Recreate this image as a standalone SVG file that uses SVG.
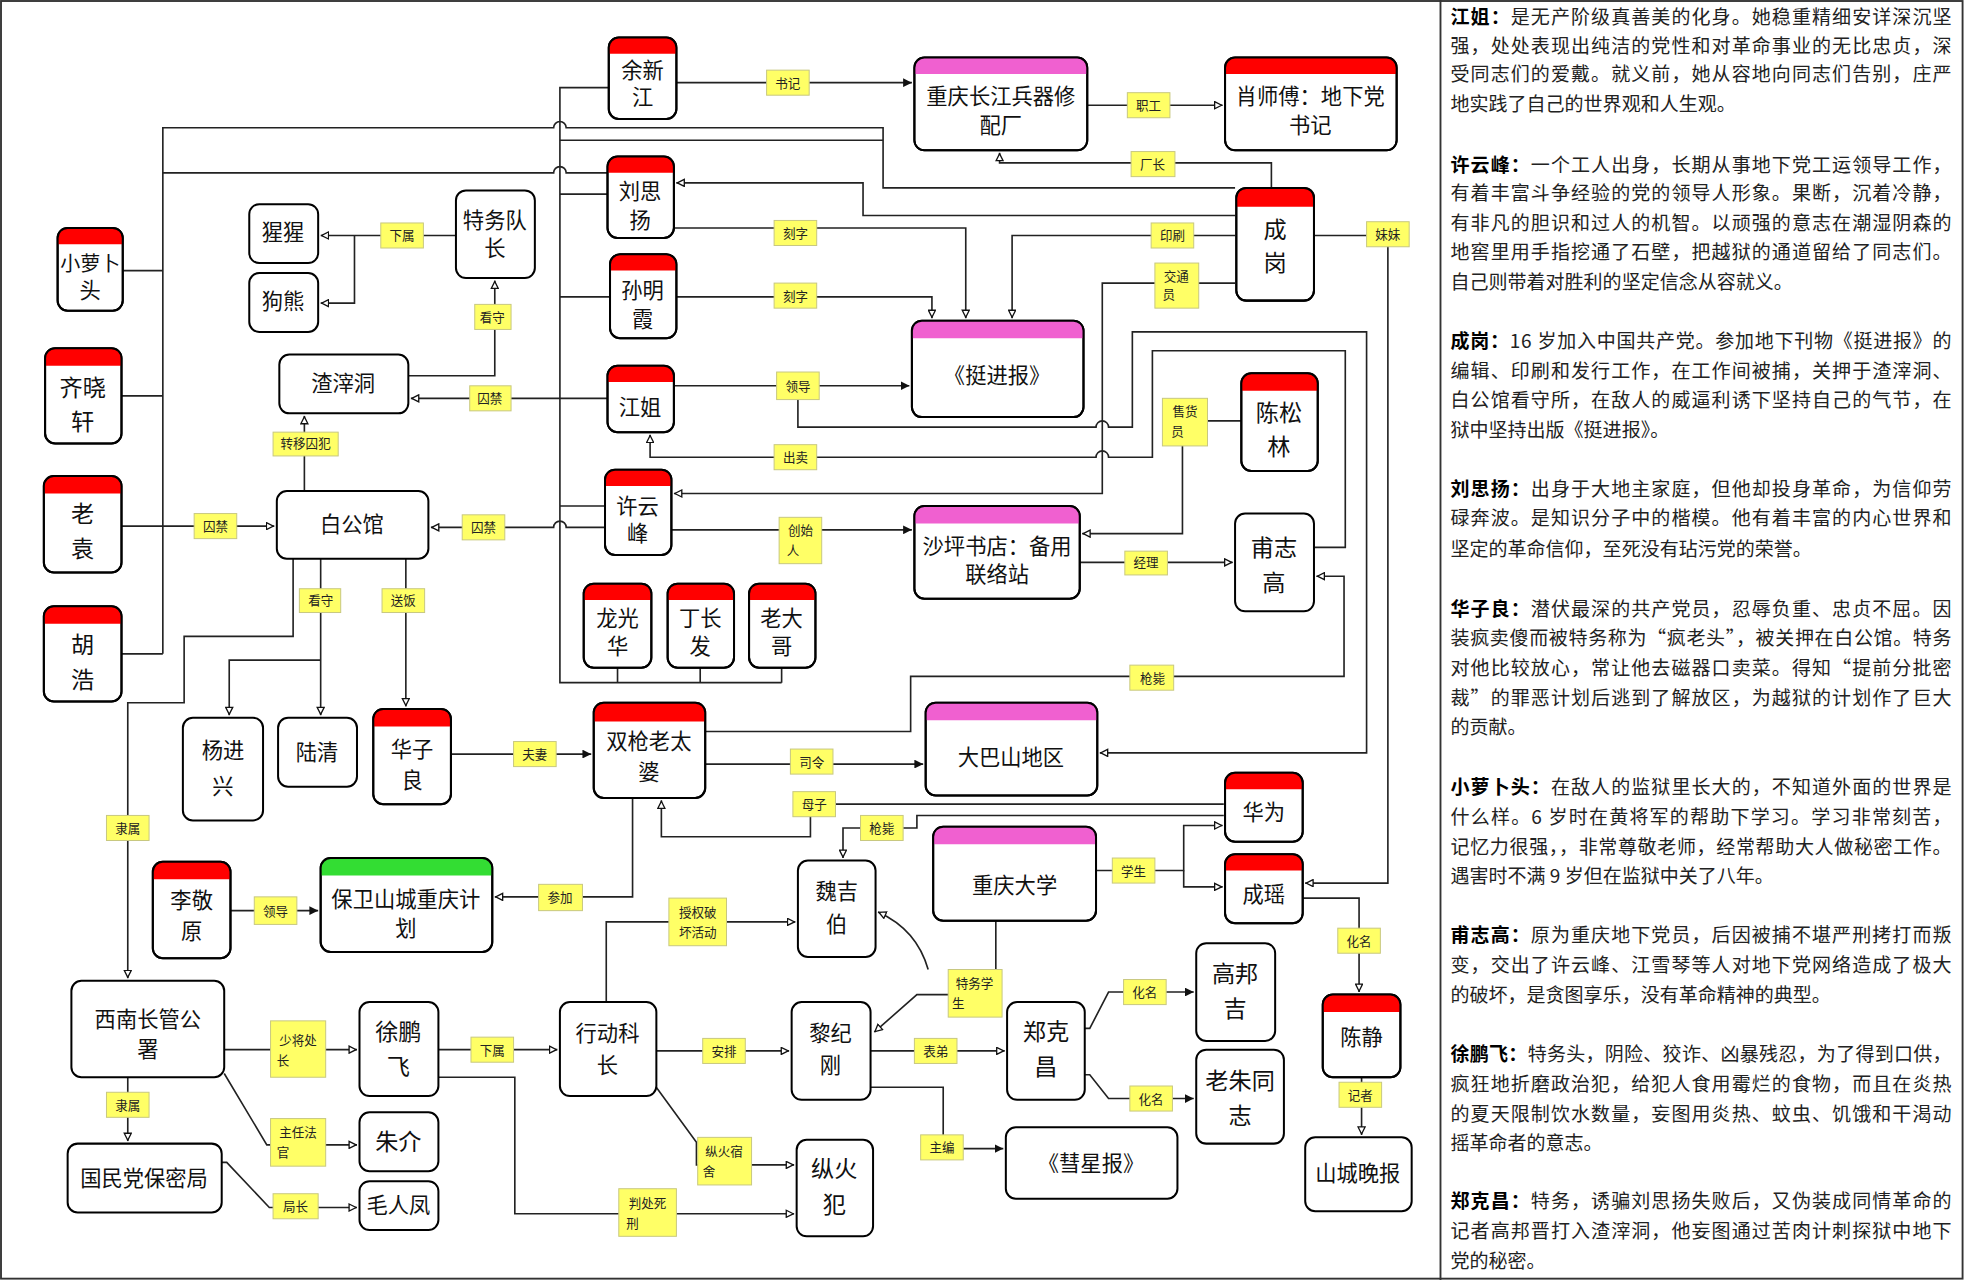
<svg xmlns="http://www.w3.org/2000/svg" width="1964" height="1280" viewBox="0 0 1964 1280">
<defs>
<style>
.box{fill:#fff;stroke:#000;stroke-width:1.6}
.ol{fill:none;stroke:#000;stroke-width:1.6}
.red{fill:#f00}.pink{fill:#f060d0}.green{fill:#33dd33}
.t{font-family:"Noto Sans CJK SC",sans-serif;font-size:17px;text-anchor:middle;fill:#111}
.tb{font-size:18.5px}
.lb{fill:#ffff66;stroke:#c8c880;stroke-width:0.8}
.lt{font-family:"Noto Sans CJK SC",sans-serif;font-size:10px;text-anchor:middle;fill:#222}
.c path{fill:none;stroke:#222;stroke-width:1.3}
.p{font-family:"Noto Sans CJK SC",sans-serif;font-size:15.2px;fill:#222}
.p tspan.b{font-weight:bold;fill:#000}
</style>
<marker id="af" viewBox="0 0 10 10" refX="10" refY="5" markerWidth="7" markerHeight="7" orient="auto" markerUnits="userSpaceOnUse"><path d="M0,0 L10,5 L0,10 Z" fill="#111"/></marker>
<marker id="ao" viewBox="0 0 10 10" refX="10" refY="5" markerWidth="7" markerHeight="7" orient="auto" markerUnits="userSpaceOnUse"><path d="M1,1 L9,5 L1,9 Z" fill="#fff" stroke="#111" stroke-width="1.5"/></marker>
</defs>
<rect width="1964" height="1280" fill="#fff"/>
<g transform="scale(1.2526)">
<rect x="0.8" y="0.8" width="1566" height="1020" fill="none" stroke="#333" stroke-width="1.5"/>
<line x1="1150" y1="0" x2="1150" y2="1022" stroke="#333" stroke-width="1.5"/>

<g class="c" id="connectors">
<path d="M540,66 H728" marker-end="url(#af)"/>
<path d="M868,84 H976" marker-end="url(#ao)"/>
<path d="M1015,150 V130 H798 V122" marker-end="url(#ao)"/>
<path d="M986,150 H705 V102 H452 A5,5 0 0 0 442,102 H130 V522"/>
<path d="M705,112 H447"/>
<path d="M98,216 H130 M97,316 H130 M97,522 H130"/>
<path d="M97,420 H219" marker-end="url(#ao)"/>
<path d="M130,138 H442 A5,5 0 0 1 452,138 H485"/>
<path d="M486,70 H447 V545 H624 M447,155 H485 M447,237 H487 M447,404 H483 M493,533 V545 M559,533 V545 M624,533 V545"/>
<path d="M485,318 H328" marker-end="url(#ao)"/>
<path d="M483,421 H452 A5,5 0 0 0 442,421 H344" marker-end="url(#ao)"/>
<path d="M986,172 H689 V146 H540" marker-end="url(#ao)"/>
<path d="M538,182 H771 V254" marker-end="url(#ao)"/>
<path d="M540,237 H744 V254" marker-end="url(#ao)"/>
<path d="M986,188 H808 V254" marker-end="url(#ao)"/>
<path d="M986,226 H880 V394 H538" marker-end="url(#ao)"/>
<path d="M538,308 H726" marker-end="url(#af)"/>
<path d="M637,319 V341 H875 A5,5 0 0 1 885,341 H904 V265 H1091 V601 H878" marker-end="url(#ao)"/>
<path d="M1049,437 H1074 V280 H920 V365 H885 A5,5 0 0 0 875,365 H519 V347" marker-end="url(#ao)"/>
<path d="M991,336 H944 V426 H864" marker-end="url(#ao)"/>
<path d="M536,423 H728" marker-end="url(#af)"/>
<path d="M862,449 H984" marker-end="url(#ao)"/>
<path d="M1049,188 H1108 V705 H1042" marker-end="url(#ao)"/>
<path d="M563,584 H727 V540 H1073 V460 H1051" marker-end="url(#ao)"/>
<path d="M563,610 H737" marker-end="url(#af)"/>
<path d="M977,642 H647 V668 H528 V639" marker-end="url(#ao)"/>
<path d="M977,651 H732 V661 H673 V685" marker-end="url(#ao)"/>
<path d="M875,695 H945 V659 H976" marker-end="url(#ao)"/>
<path d="M945,695 V708 H976" marker-end="url(#ao)"/>
<path d="M1040,717 H1085 V792" marker-end="url(#ao)"/>
<path d="M1087,860 V906" marker-end="url(#ao)"/>
<path d="M795,735 V794 H757"/>
<path d="M757,794 H732 L698,824" marker-end="url(#ao)"/>
<path d="M741,774 Q732,742 701,728" marker-end="url(#ao)"/>
<path d="M484,800 V736 H635" marker-end="url(#ao)"/>
<path d="M524,839 H630" marker-end="url(#ao)"/>
<path d="M695,839 H802" marker-end="url(#ao)"/>
<path d="M695,868 H753 V917 H801" marker-end="url(#af)"/>
<path d="M866,821 H870 L885,792 H953" marker-end="url(#af)"/>
<path d="M866,858 H870 L885,877 H953" marker-end="url(#af)"/>
<path d="M521,864 L556,912 V930 H634" marker-end="url(#ao)"/>
<path d="M350,860 H411 V969 H634" marker-end="url(#ao)"/>
<path d="M350,838 H445" marker-end="url(#ao)"/>
<path d="M179,838 H285" marker-end="url(#ao)"/>
<path d="M179,857 L213,914 H285" marker-end="url(#ao)"/>
<path d="M177,928 H181 L215,964 H285" marker-end="url(#ao)"/>
<path d="M102,860 V911" marker-end="url(#ao)"/>
<path d="M234,446 V508 H147 V561 H102 V781" marker-end="url(#ao)"/>
<path d="M256,446 V571" marker-end="url(#ao)"/>
<path d="M256,527 H183 V571" marker-end="url(#ao)"/>
<path d="M324,446 V564" marker-end="url(#ao)"/>
<path d="M243,392 V332" marker-end="url(#ao)"/>
<path d="M326,300 H395 V224" marker-end="url(#ao)"/>
<path d="M364,188 H256" marker-end="url(#ao)"/>
<path d="M283,188 V242 H256" marker-end="url(#ao)"/>
<path d="M360,602 H472" marker-end="url(#af)"/>
<path d="M505,637 V716 H395" marker-end="url(#ao)"/>
<path d="M184,727 H254" marker-end="url(#af)"/>
</g>

<g id="labels">
<rect class="lb" x="612" y="56" width="34" height="20"/><text class="lt" x="629" y="70">书记</text>
<rect class="lb" x="900" y="74" width="34" height="20"/><text class="lt" x="917" y="88">职工</text>
<rect class="lb" x="903" y="121" width="35" height="20"/><text class="lt" x="920" y="135">厂长</text>
<rect class="lb" x="1091" y="177" width="34" height="20"/><text class="lt" x="1108" y="191">妹妹</text>
<rect class="lb" x="919" y="178" width="34" height="20"/><text class="lt" x="936" y="192">印刷</text>
<rect class="lb" x="922" y="210" width="35" height="36"/><text class="lt" x="939" y="224">交通</text><text class="lt" x="933" y="239">员</text>
<rect class="lb" x="618" y="176" width="34" height="20"/><text class="lt" x="635" y="190">刻字</text>
<rect class="lb" x="618" y="226" width="34" height="20"/><text class="lt" x="635" y="240">刻字</text>
<rect class="lb" x="304" y="178" width="34" height="20"/><text class="lt" x="321" y="192">下属</text>
<rect class="lb" x="379" y="243" width="29" height="20"/><text class="lt" x="393" y="257">看守</text>
<rect class="lb" x="375" y="308" width="33" height="20"/><text class="lt" x="391" y="322">囚禁</text>
<rect class="lb" x="620" y="297" width="34" height="22"/><text class="lt" x="637" y="312">领导</text>
<rect class="lb" x="928" y="318" width="36" height="38"/><text class="lt" x="946" y="332">售货</text><text class="lt" x="940" y="348">员</text>
<rect class="lb" x="618" y="355" width="34" height="20"/><text class="lt" x="635" y="369">出卖</text>
<rect class="lb" x="218" y="345" width="52" height="19"/><text class="lt" x="244" y="358">转移囚犯</text>
<rect class="lb" x="155" y="410" width="34" height="20"/><text class="lt" x="172" y="424">囚禁</text>
<rect class="lb" x="369" y="411" width="34" height="20"/><text class="lt" x="386" y="425">囚禁</text>
<rect class="lb" x="622" y="413" width="34" height="37"/><text class="lt" x="639" y="427">创始</text><text class="lt" x="633" y="443">人</text>
<rect class="lb" x="898" y="440" width="34" height="19"/><text class="lt" x="915" y="453">经理</text>
<rect class="lb" x="239" y="470" width="33" height="19"/><text class="lt" x="256" y="483">看守</text>
<rect class="lb" x="305" y="470" width="34" height="19"/><text class="lt" x="322" y="483">送饭</text>
<rect class="lb" x="902" y="531" width="35" height="20"/><text class="lt" x="920" y="545">枪毙</text>
<rect class="lb" x="410" y="592" width="34" height="20"/><text class="lt" x="427" y="606">夫妻</text>
<rect class="lb" x="631" y="598" width="34" height="20"/><text class="lt" x="648" y="612">司令</text>
<rect class="lb" x="633" y="632" width="34" height="20"/><text class="lt" x="650" y="646">母子</text>
<rect class="lb" x="687" y="651" width="34" height="20"/><text class="lt" x="704" y="665">枪毙</text>
<rect class="lb" x="888" y="685" width="34" height="20"/><text class="lt" x="905" y="699">学生</text>
<rect class="lb" x="1068" y="741" width="34" height="20"/><text class="lt" x="1085" y="755">化名</text>
<rect class="lb" x="85" y="651" width="34" height="20"/><text class="lt" x="102" y="665">隶属</text>
<rect class="lb" x="203" y="716" width="34" height="22"/><text class="lt" x="220" y="731">领导</text>
<rect class="lb" x="430" y="706" width="35" height="21"/><text class="lt" x="447" y="720">参加</text>
<rect class="lb" x="534" y="717" width="46" height="38"/><text class="lt" x="557" y="732">授权破</text><text class="lt" x="557" y="748">坏活动</text>
<rect class="lb" x="757" y="774" width="43" height="38"/><text class="lt" x="778" y="789">特务学</text><text class="lt" x="765" y="805">生</text>
<rect class="lb" x="216" y="815" width="44" height="45"/><text class="lt" x="238" y="834">少将处</text><text class="lt" x="226" y="850">长</text>
<rect class="lb" x="376" y="828" width="34" height="20"/><text class="lt" x="393" y="842">下属</text>
<rect class="lb" x="561" y="829" width="34" height="20"/><text class="lt" x="578" y="843">安排</text>
<rect class="lb" x="730" y="829" width="34" height="20"/><text class="lt" x="747" y="843">表弟</text>
<rect class="lb" x="897" y="782" width="34" height="20"/><text class="lt" x="914" y="796">化名</text>
<rect class="lb" x="902" y="867" width="34" height="20"/><text class="lt" x="919" y="881">化名</text>
<rect class="lb" x="1069" y="864" width="34" height="20"/><text class="lt" x="1086" y="878">记者</text>
<rect class="lb" x="85" y="872" width="34" height="20"/><text class="lt" x="102" y="886">隶属</text>
<rect class="lb" x="216" y="893" width="44" height="38"/><text class="lt" x="238" y="908">主任法</text><text class="lt" x="226" y="924">官</text>
<rect class="lb" x="218" y="953" width="36" height="20"/><text class="lt" x="236" y="967">局长</text>
<rect class="lb" x="735" y="906" width="34" height="20"/><text class="lt" x="752" y="920">主编</text>
<rect class="lb" x="557" y="908" width="43" height="38"/><text class="lt" x="578" y="923">纵火宿</text><text class="lt" x="566" y="939">舍</text>
<rect class="lb" x="494" y="949" width="46" height="38"/><text class="lt" x="517" y="964">判处死</text><text class="lt" x="505" y="980">刑</text>
</g>

<g id="n-yuxinjiang"><rect class="box" x="486" y="30" width="54" height="65" rx="8"/><path class="red" d="M486,43 V38 Q486,30 494,30 H532 Q540,30 540,38 V43 Z"/><rect class="ol" x="486" y="30" width="54" height="65" rx="8"/><text class="t" x="513" y="62">余新</text><text class="t" x="513" y="84">江</text></g>
<g id="n-bingqichang"><rect class="box" x="730" y="46" width="138" height="74" rx="8"/><path class="pink" d="M730,59 V54 Q730,46 738,46 H860 Q868,46 868,54 V59 Z"/><rect class="ol" x="730" y="46" width="138" height="74" rx="8"/><text class="t" x="799" y="83">重庆长江兵器修</text><text class="t" x="799" y="106">配厂</text></g>
<g id="n-xiaoshifu"><rect class="box" x="978" y="46" width="137" height="74" rx="8"/><path class="red" d="M978,59 V54 Q978,46 986,46 H1107 Q1115,46 1115,54 V59 Z"/><rect class="ol" x="978" y="46" width="137" height="74" rx="8"/><text class="t" x="1046" y="83">肖师傅：地下党</text><text class="t" x="1046" y="106">书记</text></g>
<g id="n-liusiyang"><rect class="box" x="485" y="125" width="53" height="65" rx="8"/><path class="red" d="M485,138 V133 Q485,125 493,125 H530 Q538,125 538,133 V138 Z"/><rect class="ol" x="485" y="125" width="53" height="65" rx="8"/><text class="t" x="511" y="159">刘思</text><text class="t" x="511" y="182">扬</text></g>
<g id="n-chenggang"><rect class="box" x="987" y="150" width="62" height="90" rx="8"/><path class="red" d="M987,165 V158 Q987,150 995,150 H1041 Q1049,150 1049,158 V165 Z"/><rect class="ol" x="987" y="150" width="62" height="90" rx="8"/><text class="t tb" x="1018" y="190">成</text><text class="t tb" x="1018" y="216">岗</text></g>
<g id="n-sunmingxia"><rect class="box" x="487" y="203" width="53" height="67" rx="8"/><path class="red" d="M487,216 V211 Q487,203 495,203 H532 Q540,203 540,211 V216 Z"/><rect class="ol" x="487" y="203" width="53" height="67" rx="8"/><text class="t" x="513" y="238">孙明</text><text class="t" x="513" y="261">霞</text></g>
<g id="n-tingjinbao"><rect class="box" x="728" y="256" width="137" height="77" rx="8"/><path class="pink" d="M728,270 V264 Q728,256 736,256 H857 Q865,256 865,264 V270 Z"/><rect class="ol" x="728" y="256" width="137" height="77" rx="8"/><text class="t" x="796" y="306">《挺进报》</text></g>
<g id="n-jiangjie"><rect class="box" x="485" y="292" width="53" height="53" rx="8"/><path class="red" d="M485,305 V300 Q485,292 493,292 H530 Q538,292 538,300 V305 Z"/><rect class="ol" x="485" y="292" width="53" height="53" rx="8"/><text class="t" x="511" y="331">江姐</text></g>
<g id="n-chensonglin"><rect class="box" x="991" y="298" width="61" height="78" rx="8"/><path class="red" d="M991,312 V306 Q991,298 999,298 H1044 Q1052,298 1052,306 V312 Z"/><rect class="ol" x="991" y="298" width="61" height="78" rx="8"/><text class="t tb" x="1021" y="336">陈松</text><text class="t tb" x="1021" y="363">林</text></g>
<g id="n-xuyunfeng"><rect class="box" x="483" y="375" width="53" height="68" rx="8"/><path class="red" d="M483,388 V383 Q483,375 491,375 H528 Q536,375 536,383 V388 Z"/><rect class="ol" x="483" y="375" width="53" height="68" rx="8"/><text class="t" x="509" y="410">许云</text><text class="t" x="509" y="432">峰</text></g>
<g id="n-shaping"><rect class="box" x="730" y="404" width="132" height="74" rx="8"/><path class="pink" d="M730,418 V412 Q730,404 738,404 H854 Q862,404 862,412 V418 Z"/><rect class="ol" x="730" y="404" width="132" height="74" rx="8"/><text class="t" x="796" y="442">沙坪书店：备用</text><text class="t" x="796" y="465">联络站</text></g>
<g id="n-fuzhigao"><rect class="box" x="986" y="410" width="63" height="78" rx="8"/><text class="t tb" x="1017" y="444">甫志</text><text class="t tb" x="1017" y="472">高</text></g>
<g id="n-longguanghua"><rect class="box" x="466" y="466" width="54" height="67" rx="8"/><path class="red" d="M466,479 V474 Q466,466 474,466 H512 Q520,466 520,474 V479 Z"/><rect class="ol" x="466" y="466" width="54" height="67" rx="8"/><text class="t" x="493" y="500">龙光</text><text class="t" x="493" y="522">华</text></g>
<g id="n-dingchangfa"><rect class="box" x="533" y="466" width="53" height="67" rx="8"/><path class="red" d="M533,479 V474 Q533,466 541,466 H578 Q586,466 586,474 V479 Z"/><rect class="ol" x="533" y="466" width="53" height="67" rx="8"/><text class="t" x="559" y="500">丁长</text><text class="t" x="559" y="522">发</text></g>
<g id="n-laodage"><rect class="box" x="598" y="466" width="53" height="67" rx="8"/><path class="red" d="M598,479 V474 Q598,466 606,466 H643 Q651,466 651,474 V479 Z"/><rect class="ol" x="598" y="466" width="53" height="67" rx="8"/><text class="t" x="624" y="500">老大</text><text class="t" x="624" y="522">哥</text></g>
<g id="n-shuangqiang"><rect class="box" x="474" y="561" width="89" height="76" rx="8"/><path class="red" d="M474,576 V569 Q474,561 482,561 H555 Q563,561 563,569 V576 Z"/><rect class="ol" x="474" y="561" width="89" height="76" rx="8"/><text class="t" x="518" y="598">双枪老太</text><text class="t" x="518" y="623">婆</text></g>
<g id="n-dabashan"><rect class="box" x="739" y="561" width="137" height="74" rx="8"/><path class="pink" d="M739,575 V569 Q739,561 747,561 H868 Q876,561 876,569 V575 Z"/><rect class="ol" x="739" y="561" width="137" height="74" rx="8"/><text class="t" x="807" y="611">大巴山地区</text></g>
<g id="n-huawei"><rect class="box" x="978" y="617" width="62" height="55" rx="8"/><path class="red" d="M978,630 V625 Q978,617 986,617 H1032 Q1040,617 1040,625 V630 Z"/><rect class="ol" x="978" y="617" width="62" height="55" rx="8"/><text class="t" x="1009" y="655">华为</text></g>
<g id="n-cqdaxue"><rect class="box" x="745" y="660" width="130" height="75" rx="8"/><path class="pink" d="M745,674 V668 Q745,660 753,660 H867 Q875,660 875,668 V674 Z"/><rect class="ol" x="745" y="660" width="130" height="75" rx="8"/><text class="t" x="810" y="713">重庆大学</text></g>
<g id="n-chengyao"><rect class="box" x="978" y="682" width="62" height="55" rx="8"/><path class="red" d="M978,695 V690 Q978,682 986,682 H1032 Q1040,682 1040,690 V695 Z"/><rect class="ol" x="978" y="682" width="62" height="55" rx="8"/><text class="t" x="1009" y="720">成瑶</text></g>
<g id="n-weijibo"><rect class="box" x="637" y="687" width="62" height="77" rx="8"/><text class="t" x="668" y="718">魏吉</text><text class="t" x="668" y="744">伯</text></g>
<g id="n-lijingyuan"><rect class="box" x="122" y="688" width="62" height="77" rx="8"/><path class="red" d="M122,702 V696 Q122,688 130,688 H176 Q184,688 184,696 V702 Z"/><rect class="ol" x="122" y="688" width="62" height="77" rx="8"/><text class="t" x="153" y="725">李敬</text><text class="t" x="153" y="750">原</text></g>
<g id="n-baowei"><rect class="box" x="256" y="685" width="137" height="75" rx="8"/><path class="green" d="M256,699 V693 Q256,685 264,685 H385 Q393,685 393,693 V699 Z"/><rect class="ol" x="256" y="685" width="137" height="75" rx="8"/><text class="t" x="324" y="724">保卫山城重庆计</text><text class="t" x="324" y="747">划</text></g>
<g id="n-huaziliang"><rect class="box" x="298" y="566" width="62" height="76" rx="8"/><path class="red" d="M298,580 V574 Q298,566 306,566 H352 Q360,566 360,574 V580 Z"/><rect class="ol" x="298" y="566" width="62" height="76" rx="8"/><text class="t" x="329" y="604">华子</text><text class="t" x="329" y="629">良</text></g>
<g id="n-yangjinxing"><rect class="box" x="146" y="573" width="64" height="82" rx="8"/><text class="t" x="178" y="605">杨进</text><text class="t" x="178" y="634">兴</text></g>
<g id="n-luqing"><rect class="box" x="222" y="573" width="63" height="55" rx="8"/><text class="t" x="253" y="607">陆清</text></g>
<g id="n-baigongguan"><rect class="box" x="221" y="392" width="121" height="54" rx="8"/><text class="t" x="281" y="425">白公馆</text></g>
<g id="n-zhazidong"><rect class="box" x="223" y="283" width="103" height="47" rx="8"/><text class="t" x="274" y="312">渣滓洞</text></g>
<g id="n-tewuduizhang"><rect class="box" x="364" y="152" width="63" height="70" rx="8"/><text class="t" x="395" y="182">特务队</text><text class="t" x="395" y="204">长</text></g>
<g id="n-xingxing"><rect class="box" x="199" y="163" width="55" height="47" rx="8"/><text class="t" x="226" y="192">猩猩</text></g>
<g id="n-gouxiong"><rect class="box" x="199" y="218" width="55" height="47" rx="8"/><text class="t" x="226" y="247">狗熊</text></g>
<g id="n-xiaoluobotou"><rect class="box" x="46" y="182" width="52" height="66" rx="8"/><path class="red" d="M46,195 V190 Q46,182 54,182 H90 Q98,182 98,190 V195 Z"/><rect class="ol" x="46" y="182" width="52" height="66" rx="8"/><text class="t" x="72" y="216" style="font-size:16px">小萝卜</text><text class="t" x="72" y="238">头</text></g>
<g id="n-qixiaoxuan"><rect class="box" x="36" y="278" width="61" height="76" rx="8"/><path class="red" d="M36,292 V286 Q36,278 44,278 H89 Q97,278 97,286 V292 Z"/><rect class="ol" x="36" y="278" width="61" height="76" rx="8"/><text class="t tb" x="66" y="316">齐晓</text><text class="t tb" x="66" y="343">轩</text></g>
<g id="n-laoyuan"><rect class="box" x="35" y="380" width="62" height="77" rx="8"/><path class="red" d="M35,394 V388 Q35,380 43,380 H89 Q97,380 97,388 V394 Z"/><rect class="ol" x="35" y="380" width="62" height="77" rx="8"/><text class="t tb" x="66" y="417">老</text><text class="t tb" x="66" y="445">袁</text></g>
<g id="n-huhao"><rect class="box" x="35" y="484" width="62" height="76" rx="8"/><path class="red" d="M35,498 V492 Q35,484 43,484 H89 Q97,484 97,492 V498 Z"/><rect class="ol" x="35" y="484" width="62" height="76" rx="8"/><text class="t tb" x="66" y="521">胡</text><text class="t tb" x="66" y="549">浩</text></g>
<g id="n-xinan"><rect class="box" x="57" y="783" width="122" height="77" rx="8"/><text class="t" x="118" y="820">西南长管公</text><text class="t" x="118" y="844">署</text></g>
<g id="n-baomiju"><rect class="box" x="54" y="913" width="123" height="55" rx="8"/><text class="t" x="115" y="947">国民党保密局</text></g>
<g id="n-xupengfei"><rect class="box" x="287" y="800" width="63" height="75" rx="8"/><text class="t tb" x="318" y="830">徐鹏</text><text class="t tb" x="318" y="858">飞</text></g>
<g id="n-zhujie"><rect class="box" x="287" y="888" width="63" height="47" rx="8"/><text class="t tb" x="318" y="918">朱介</text></g>
<g id="n-maorenfeng"><rect class="box" x="287" y="943" width="63" height="39" rx="8"/><text class="t" x="318" y="968">毛人凤</text></g>
<g id="n-xingdong"><rect class="box" x="447" y="800" width="77" height="75" rx="8"/><text class="t" x="485" y="831">行动科</text><text class="t" x="485" y="857">长</text></g>
<g id="n-lijigang"><rect class="box" x="632" y="800" width="63" height="78" rx="8"/><text class="t" x="663" y="831">黎纪</text><text class="t" x="663" y="857">刚</text></g>
<g id="n-zhengkechang"><rect class="box" x="804" y="800" width="62" height="78" rx="8"/><text class="t tb" x="835" y="830">郑克</text><text class="t tb" x="835" y="858">昌</text></g>
<g id="n-gaobangji"><rect class="box" x="955" y="753" width="63" height="78" rx="8"/><text class="t tb" x="986" y="784">高邦</text><text class="t tb" x="986" y="812">吉</text></g>
<g id="n-laozhu"><rect class="box" x="955" y="838" width="70" height="75" rx="8"/><text class="t tb" x="990" y="869">老朱同</text><text class="t tb" x="990" y="897">志</text></g>
<g id="n-huixingbao"><rect class="box" x="803" y="900" width="137" height="57" rx="8"/><text class="t" x="871" y="935">《彗星报》</text></g>
<g id="n-zonghuofan"><rect class="box" x="636" y="910" width="61" height="77" rx="8"/><text class="t tb" x="666" y="940">纵火</text><text class="t tb" x="666" y="968">犯</text></g>
<g id="n-chenjing"><rect class="box" x="1056" y="794" width="62" height="66" rx="8"/><path class="red" d="M1056,808 V802 Q1056,794 1064,794 H1110 Q1118,794 1118,802 V808 Z"/><rect class="ol" x="1056" y="794" width="62" height="66" rx="8"/><text class="t" x="1087" y="834">陈静</text></g>
<g id="n-shanchengwanbao"><rect class="box" x="1042" y="908" width="85" height="59" rx="8"/><text class="t" x="1084" y="943">山城晚报</text></g>

<g id="panel">
<text class="p" x="1158" y="19" textLength="400" lengthAdjust="spacing"><tspan class="b">江姐：</tspan>是无产阶级真善美的化身。她稳重精细安详深沉坚</text>
<text class="p" x="1158" y="42" textLength="400" lengthAdjust="spacing">强，处处表现出纯洁的党性和对革命事业的无比忠贞，深</text>
<text class="p" x="1158" y="65" textLength="400" lengthAdjust="spacing">受同志们的爱戴。就义前，她从容地向同志们告别，庄严</text>
<text class="p" x="1158" y="89">地实践了自己的世界观和人生观。</text>
<text class="p" x="1158" y="137" textLength="400" lengthAdjust="spacing"><tspan class="b">许云峰：</tspan>一个工人出身，长期从事地下党工运领导工作，</text>
<text class="p" x="1158" y="160" textLength="400" lengthAdjust="spacing">有着丰富斗争经验的党的领导人形象。果断，沉着冷静，</text>
<text class="p" x="1158" y="184" textLength="400" lengthAdjust="spacing">有非凡的胆识和过人的机智。以顽强的意志在潮湿阴森的</text>
<text class="p" x="1158" y="207" textLength="400" lengthAdjust="spacing">地窖里用手指挖通了石壁，把越狱的通道留给了同志们。</text>
<text class="p" x="1158" y="231">自己则带着对胜利的坚定信念从容就义。</text>
<text class="p" x="1158" y="278" textLength="400" lengthAdjust="spacing"><tspan class="b">成岗：</tspan>16 岁加入中国共产党。参加地下刊物《挺进报》的</text>
<text class="p" x="1158" y="302" textLength="400" lengthAdjust="spacing">编辑、印刷和发行工作，在工作间被捕，关押于渣滓洞、</text>
<text class="p" x="1158" y="325" textLength="400" lengthAdjust="spacing">白公馆看守所，在敌人的威逼利诱下坚持自己的气节，在</text>
<text class="p" x="1158" y="349">狱中坚持出版《挺进报》。</text>
<text class="p" x="1158" y="396" textLength="400" lengthAdjust="spacing"><tspan class="b">刘思扬：</tspan>出身于大地主家庭，但他却投身革命，为信仰劳</text>
<text class="p" x="1158" y="419" textLength="400" lengthAdjust="spacing">碌奔波。是知识分子中的楷模。他有着丰富的内心世界和</text>
<text class="p" x="1158" y="444">坚定的革命信仰，至死没有玷污党的荣誉。</text>
<text class="p" x="1158" y="492" textLength="400" lengthAdjust="spacing"><tspan class="b">华子良：</tspan>潜伏最深的共产党员，忍辱负重、忠贞不屈。因</text>
<text class="p" x="1158" y="515" textLength="400" lengthAdjust="spacing">装疯卖傻而被特务称为“疯老头”，被关押在白公馆。特务</text>
<text class="p" x="1158" y="539" textLength="400" lengthAdjust="spacing">对他比较放心，常让他去磁器口卖菜。得知“提前分批密</text>
<text class="p" x="1158" y="563" textLength="400" lengthAdjust="spacing">裁”的罪恶计划后逃到了解放区，为越狱的计划作了巨大</text>
<text class="p" x="1158" y="586">的贡献。</text>
<text class="p" x="1158" y="634" textLength="400" lengthAdjust="spacing"><tspan class="b">小萝卜头：</tspan>在敌人的监狱里长大的，不知道外面的世界是</text>
<text class="p" x="1158" y="658" textLength="400" lengthAdjust="spacing">什么样。6 岁时在黄将军的帮助下学习。学习非常刻苦，</text>
<text class="p" x="1158" y="682" textLength="400" lengthAdjust="spacing">记忆力很强，，非常尊敬老师，经常帮助大人做秘密工作。</text>
<text class="p" x="1158" y="705">遇害时不满 9 岁但在监狱中关了八年。</text>
<text class="p" x="1158" y="752" textLength="400" lengthAdjust="spacing"><tspan class="b">甫志高：</tspan>原为重庆地下党员，后因被捕不堪严刑拷打而叛</text>
<text class="p" x="1158" y="776" textLength="400" lengthAdjust="spacing">变，交出了许云峰、江雪琴等人对地下党网络造成了极大</text>
<text class="p" x="1158" y="800">的破坏，是贪图享乐，没有革命精神的典型。</text>
<text class="p" x="1158" y="847" textLength="400" lengthAdjust="spacing"><tspan class="b">徐鹏飞：</tspan>特务头，阴险、狡诈、凶暴残忍，为了得到口供，</text>
<text class="p" x="1158" y="871" textLength="400" lengthAdjust="spacing">疯狂地折磨政治犯，给犯人食用霉烂的食物，而且在炎热</text>
<text class="p" x="1158" y="895" textLength="400" lengthAdjust="spacing">的夏天限制饮水数量，妄图用炎热、蚊虫、饥饿和干渴动</text>
<text class="p" x="1158" y="918">摇革命者的意志。</text>
<text class="p" x="1158" y="964" textLength="400" lengthAdjust="spacing"><tspan class="b">郑克昌：</tspan>特务，诱骗刘思扬失败后，又伪装成同情革命的</text>
<text class="p" x="1158" y="988" textLength="400" lengthAdjust="spacing">记者高邦晋打入渣滓洞，他妄图通过苦肉计刺探狱中地下</text>
<text class="p" x="1158" y="1012">党的秘密。</text>
</g>
</g>
</svg>
